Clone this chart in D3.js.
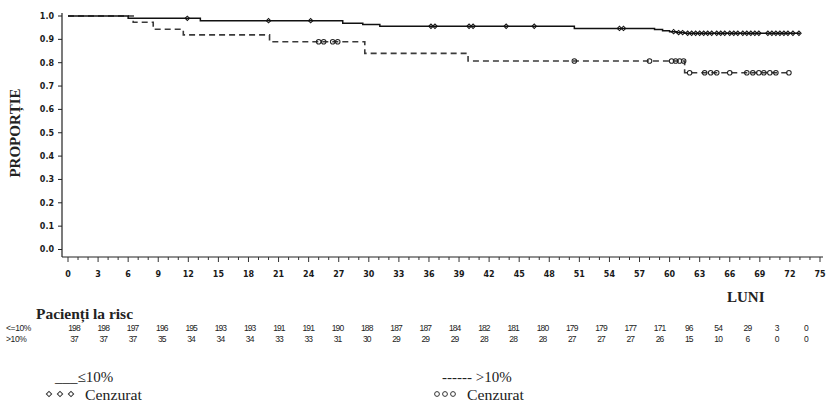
<!DOCTYPE html>
<html>
<head>
<meta charset="utf-8">
<script src="https://cdn.jsdelivr.net/npm/d3@7"></script>
<style>
  html, body { margin: 0; padding: 0; background: #fff; }
  svg { display: block; }
</style>
</head>
<body>
<svg id="chart" width="835" height="408"></svg>
<script>
// ---------------- DATA ----------------
const monthTicks = [0,3,6,9,12,15,18,21,24,27,30,33,36,39,42,45,48,51,54,57,60,63,66,69,72,75];
const yTicks = [0.0,0.1,0.2,0.3,0.4,0.5,0.6,0.7,0.8,0.9,1.0];

const riskLabels = ["<=10%", ">10%"];
const riskLe10 = [198,198,197,196,195,193,193,191,191,190,188,187,187,184,182,181,180,179,179,177,171,96,54,29,3,0];
const riskGt10 = [37,37,37,35,34,34,34,33,33,31,30,29,29,29,28,28,28,27,27,27,26,15,10,6,0,0];

// Kaplan–Meier step curve, group <=10% (solid)
const timesLe10 = [0, 6.0, 13.2, 27.4, 29.4, 31.1, 50.5, 58.5, 59.3, 60.0, 60.7, 61.5];
const survLe10  = [1.000, 0.990, 0.980, 0.969, 0.964, 0.956, 0.947, 0.942, 0.937, 0.933, 0.929, 0.926];
const lastLe10 = 73.0;
const censorLe10 = [11.9, 20.0, 24.2, 36.2, 36.6, 40.0, 40.4, 43.7, 46.5, 55.0, 55.4,
  60.4, 60.9, 61.3, 61.8, 62.2, 62.6, 63.0, 63.4, 63.8, 64.2, 64.7, 65.1, 65.5, 66.0, 66.4,
  66.8, 67.3, 67.7, 68.1, 68.5, 68.9, 69.8, 70.2, 70.6, 71.0, 71.4, 71.8, 72.3, 72.9];

// Kaplan–Meier step curve, group >10% (dashed)
const timesGt10 = [0, 6.5, 8.5, 11.5, 20.1, 29.6, 39.9, 61.5];
const survGt10  = [1.000, 0.973, 0.943, 0.919, 0.890, 0.840, 0.807, 0.757];
const lastGt10 = 72.0;
const censorGt10 = [25.0, 25.5, 26.4, 26.9, 50.5, 58.0, 60.2, 60.6, 61.0, 61.4,
  62.0, 63.5, 64.1, 64.7, 66.0, 67.7, 68.3, 68.9, 69.4, 70.0, 70.6, 71.9];

// ---------------- LAYOUT ----------------
const svg = d3.select("#chart");
const x = d3.scaleLinear().domain([0, 75]).range([68, 820]);
const y = d3.scaleLinear().domain([0, 1]).range([249.5, 16]);
const axisLeftX = 62, axisBottomY = 257;
const riskX = d3.scaleLinear().domain([0, 75]).range([74, 806]);

const tickFont = "'DejaVu Sans', sans-serif";
const serif = "'Liberation Serif', 'Times New Roman', serif";
const sans = "'Liberation Sans', Arial, sans-serif";

// Y axis
const yAxis = svg.append("g").attr("transform", `translate(${axisLeftX},0)`);
yAxis.append("line").attr("x1", 0).attr("x2", 0).attr("y1", y(1) - 3).attr("y2", axisBottomY)
  .attr("stroke", "#222").attr("stroke-width", 1.2);
yAxis.selectAll("line.tick").data(yTicks).join("line").attr("class", "tick")
  .attr("x1", -4).attr("x2", 0).attr("y1", d => y(d)).attr("y2", d => y(d))
  .attr("stroke", "#222").attr("stroke-width", 1);
yAxis.selectAll("text").data(yTicks).join("text")
  .attr("x", -8).attr("y", d => y(d)).attr("dy", "0.35em")
  .attr("text-anchor", "end")
  .attr("font-family", tickFont).attr("font-weight", "bold").attr("font-size", 8)
  .attr("fill", "#1a1a1a")
  .text(d => d3.format(".1f")(d));

// X axis
const xAxis = svg.append("g").attr("transform", `translate(0,${axisBottomY})`);
xAxis.append("line").attr("x1", axisLeftX).attr("x2", 823).attr("y1", 0).attr("y2", 0)
  .attr("stroke", "#222").attr("stroke-width", 1.2);
const minorTicks = d3.range(0, 76, 1);
xAxis.selectAll("line.minor").data(minorTicks).join("line").attr("class", "minor")
  .attr("x1", d => x(d)).attr("x2", d => x(d)).attr("y1", 0)
  .attr("y2", d => (d % 3 === 0 ? 5 : 3))
  .attr("stroke", "#333").attr("stroke-width", 1);
xAxis.selectAll("text").data(monthTicks).join("text")
  .attr("x", d => x(d)).attr("y", 20)
  .attr("text-anchor", "middle")
  .attr("font-family", tickFont).attr("font-weight", "bold").attr("font-size", 8)
  .attr("fill", "#1a1a1a")
  .text(d => d);

// Axis titles
svg.append("text")
  .attr("transform", "translate(20,133) rotate(-90)")
  .attr("text-anchor", "middle")
  .attr("font-family", serif).attr("font-weight", "bold").attr("font-size", 15)
  .attr("fill", "#222")
  .text("PROPORȚIE");
svg.append("text")
  .attr("x", 727).attr("y", 302)
  .attr("font-family", serif).attr("font-weight", "bold").attr("font-size", 15)
  .attr("fill", "#222")
  .text("LUNI");

// Curves
function stepPoints(times, surv, last) {
  const pts = times.map((t, i) => [t, surv[i]]);
  pts.push([last, surv[surv.length - 1]]);
  return pts;
}
function survAt(times, surv, t) {
  let v = surv[0];
  for (let i = 0; i < times.length; i++) if (times[i] <= t) v = surv[i];
  return v;
}
const line = d3.line().x(d => x(d[0])).y(d => y(d[1])).curve(d3.curveStepAfter);

svg.append("path")
  .datum(stepPoints(timesGt10, survGt10, lastGt10))
  .attr("d", line).attr("fill", "none")
  .attr("stroke", "#3a3a3a").attr("stroke-width", 1.6)
  .attr("stroke-dasharray", "6,4");

svg.append("path")
  .datum(stepPoints(timesLe10, survLe10, lastLe10))
  .attr("d", line).attr("fill", "none")
  .attr("stroke", "#111").attr("stroke-width", 1.5);

// Censor marks
const diamond = d3.symbol().type(d3.symbolSquare).size(10);
const circle = d3.symbol().type(d3.symbolCircle).size(16);
svg.append("g").selectAll("path").data(censorLe10).join("path")
  .attr("d", diamond)
  .attr("transform", d => `translate(${x(d)},${y(survAt(timesLe10, survLe10, d))}) rotate(45)`)
  .attr("fill", "none").attr("stroke", "#111").attr("stroke-width", 1);
svg.append("g").selectAll("path").data(censorGt10).join("path")
  .attr("d", circle)
  .attr("transform", d => `translate(${x(d)},${y(survAt(timesGt10, survGt10, d))})`)
  .attr("fill", "none").attr("stroke", "#222").attr("stroke-width", 1.1);

// Risk table
svg.append("text")
  .attr("x", 36).attr("y", 319)
  .attr("font-family", serif).attr("font-weight", "bold").attr("font-size", 14)
  .attr("textLength", 97).attr("lengthAdjust", "spacingAndGlyphs")
  .attr("fill", "#222")
  .text("Pacienți la risc");

const riskRows = [riskLe10, riskGt10];
const rowY = [331, 342];
riskRows.forEach((row, r) => {
  const g = svg.append("g");
  g.append("text").attr("x", 6).attr("y", rowY[r])
    .attr("font-family", sans).attr("font-size", 8.5)
    .attr("letter-spacing", -0.4).attr("fill", "#222")
    .text(riskLabels[r]);
  g.selectAll("text.n").data(row).join("text").attr("class", "n")
    .attr("x", (d, i) => riskX(monthTicks[i])).attr("y", rowY[r])
    .attr("text-anchor", "middle")
    .attr("font-family", sans).attr("font-size", 8.5)
    .attr("letter-spacing", -0.9).attr("fill", "#222")
    .text(d => d);
});

// Legend
const lg = svg.append("g").attr("font-family", serif).attr("font-size", 15).attr("fill", "#222");
lg.append("text").attr("x", 55).attr("y", 382).text("___≤10%");
lg.append("text").attr("x", 85).attr("y", 400).attr("textLength", 57).attr("lengthAdjust", "spacingAndGlyphs").text("Cenzurat");
lg.append("text").attr("x", 442).attr("y", 382).text("------ >10%");
lg.append("text").attr("x", 467).attr("y", 400).attr("textLength", 57).attr("lengthAdjust", "spacingAndGlyphs").text("Cenzurat");
const legDiamondX = [49, 60, 71];
const legCircleX = [437, 445, 453];
svg.append("g").selectAll("path").data(legDiamondX).join("path")
  .attr("d", d3.symbol().type(d3.symbolSquare).size(14))
  .attr("transform", d => `translate(${d},394) rotate(45)`)
  .attr("fill", "none").attr("stroke", "#333").attr("stroke-width", 1);
svg.append("g").selectAll("path").data(legCircleX).join("path")
  .attr("d", d3.symbol().type(d3.symbolCircle).size(18))
  .attr("transform", d => `translate(${d},394)`)
  .attr("fill", "none").attr("stroke", "#333").attr("stroke-width", 1);
</script>
</body>
</html>
